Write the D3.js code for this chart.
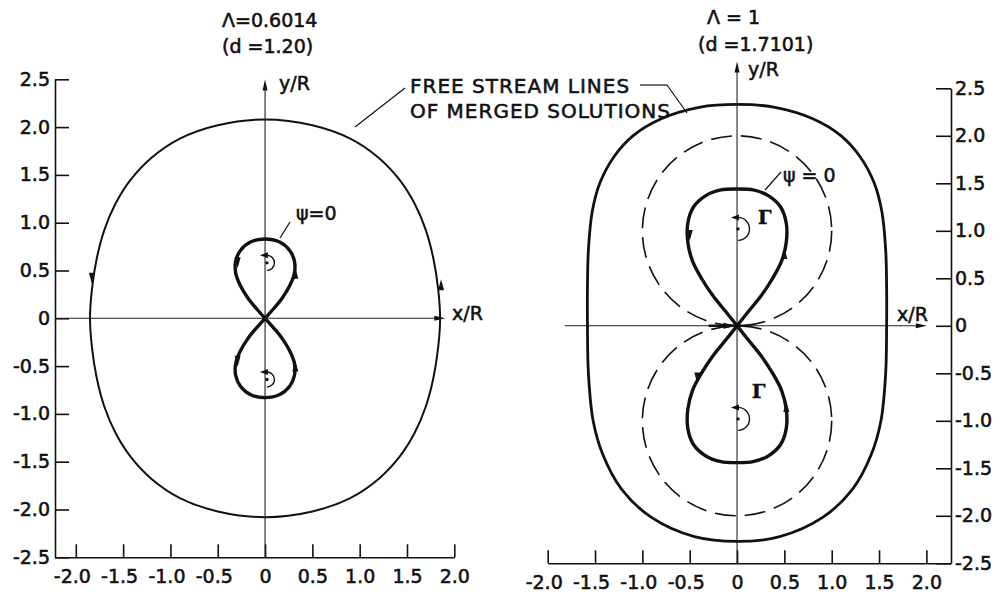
<!DOCTYPE html>
<html><head><meta charset="utf-8">
<script src="https://cdn.jsdelivr.net/npm/d3@7"></script>
<style>
body{margin:0;background:#fff}
text{font-family:"DejaVu Sans",sans-serif;fill:#111;stroke:#111;stroke-width:0.55px}
</style>
</head><body>
<svg id="c" width="1008" height="599"></svg>
<script>
// ---- tick values and their printed labels ----
const xTicks = [-2, -1.5, -1, -0.5, 0, 0.5, 1, 1.5, 2];
const xTickLabels = ["-2.0", "-1.5", "-1.0", "-0.5", "0", "0.5", "1.0", "1.5", "2.0"];
const yTicks = [2.5, 2, 1.5, 1, 0.5, 0, -0.5, -1, -1.5, -2, -2.5];
const yTickLabels = ["2.5", "2.0", "1.5", "1.0", "0.5", "0", "-0.5", "-1.0", "-1.5", "-2.0", "-2.5"];

// ---- Λ = 0.6014 (d = 1.20) ----
// free streamline, one quadrant from the top (x=0) down to the x axis
const freeLineA = [[0, 2.08], [0.5, 2.02], [0.9, 1.88], [1.2, 1.68], [1.42, 1.45], [1.58, 1.2],
  [1.7, 0.92], [1.78, 0.62], [1.83, 0.3], [1.85, 0]];
// ψ = 0 lobe, right half, from the stagnation point to the top of the lobe
const psiLobeA = [[0, 0], [0.09, 0.1], [0.18, 0.21], [0.26, 0.34], [0.31, 0.47], [0.31, 0.6],
  [0.26, 0.71], [0.15, 0.8], [0, 0.83]];
const vortexA = [[0.02, 0.58], [0.02, -0.64]];

// ---- Λ = 1 (d = 1.7101) ----
const freeLineBUpper = [[0, 2.33], [0.4, 2.3], [0.8, 2.18], [1.1, 2.0], [1.3, 1.78], [1.45, 1.5],
  [1.53, 1.2], [1.57, 0.8], [1.58, 0.4], [1.58, 0]];
const freeLineBLower = [[1.58, 0], [1.57, -0.5], [1.52, -1.0], [1.42, -1.35], [1.22, -1.72],
  [0.9, -2.02], [0.45, -2.22], [0, -2.27]];
const psiLobeB = [[0, 0], [0.12, 0.15], [0.25, 0.31], [0.37, 0.49], [0.47, 0.68], [0.52, 0.88],
  [0.52, 1.08], [0.46, 1.25], [0.33, 1.37], [0.17, 1.43], [0, 1.44]];
const vortexB = [[0.01, 1.02], [0.01, -0.98]];
const dashedCircles = [[0, 1, 1], [0, -1, 1]]; // centre x, centre y, radius

// flow-direction arrowheads on the curves: [x, y, direction]
const arrowsA = [[-1.83, 0.42, "down"], [1.86, 0.35, "up"],
  [-0.29, 0.58, "down"], [0.32, 0.47, "up"], [-0.29, -0.45, "down"], [0.32, -0.5, "up"]];
const arrowsB = [[-0.5, 0.95, "down"], [0.5, 0.76, "up"], [-0.42, -0.55, "down"], [0.52, -0.85, "up"]];

const svg = d3.select("#c");

// ---- scales for each panel ----
const A = {
  x: d3.scaleLinear().domain([-2.22, 2]).range([55, 454.3]),
  y: d3.scaleLinear().domain([-2.5, 2.5]).range([557.3, 79.3])
};
const B = {
  x: d3.scaleLinear().domain([-2, 2.26]).range([547.7, 951]),
  y: d3.scaleLinear().domain([-2.5, 2.5]).range([563.3, 88.3])
};

const tickFmt = (vals, labels) => v => labels[vals.indexOf(v)];

function styleAxis(g, size) {
  g.selectAll("path.domain").attr("stroke", "#111").attr("stroke-width", 1.6);
  g.selectAll(".tick line").attr("stroke", "#111").attr("stroke-width", 1.6);
  g.selectAll(".tick text").style("font-family", "DejaVu Sans, sans-serif")
    .style("font-size", size + "px").attr("fill", "#111");
}

// panel A axes: y on the left, ticks pointing inward
const gAy = svg.append("g").attr("transform", `translate(${A.x(-2.22)},0)`)
  .call(d3.axisLeft(A.y).tickValues(yTicks).tickFormat(tickFmt(yTicks, yTickLabels))
    .tickSize(-14).tickSizeOuter(0).tickPadding(5));
styleAxis(gAy, 19);
const gAx = svg.append("g").attr("transform", `translate(0,${A.y(-2.5)})`)
  .call(d3.axisBottom(A.x).tickValues(xTicks).tickFormat(tickFmt(xTicks, xTickLabels))
    .tickSize(-13).tickSizeOuter(0).tickPadding(12));
styleAxis(gAx, 19);
gAx.selectAll(".tick text").attr("dx", d => d < 0 ? -4 : 0);

// panel B axes: y on the right, ticks pointing inward
const gBy = svg.append("g").attr("transform", `translate(${B.x(2.26)},0)`)
  .call(d3.axisRight(B.y).tickValues(yTicks).tickFormat(tickFmt(yTicks, yTickLabels))
    .tickSize(-15).tickSizeOuter(0).tickPadding(4));
styleAxis(gBy, 19);
const gBx = svg.append("g").attr("transform", `translate(0,${B.y(-2.5)})`)
  .call(d3.axisBottom(B.x).tickValues(xTicks).tickFormat(tickFmt(xTicks, xTickLabels))
    .tickSize(-13).tickSizeOuter(0).tickPadding(12));
styleAxis(gBx, 19);
gBx.selectAll(".tick text").attr("dx", d => d < 0 ? -4 : 0);

// ---- helpers ----
function arrowHead(px, py, angleDeg, len, wid) {
  const a = angleDeg * Math.PI / 180, c = Math.cos(a), s = Math.sin(a);
  const tip = [px + c * len / 2, py + s * len / 2];
  const b = [px - c * len / 2, py - s * len / 2];
  const l = [b[0] - s * wid / 2, b[1] + c * wid / 2];
  const r = [b[0] + s * wid / 2, b[1] - c * wid / 2];
  svg.append("path").attr("d", `M${tip}L${l}L${r}Z`).attr("fill", "#111");
}

function closedFromSides(right) { // right: from top through x>0 to bottom
  const left = right.slice(1, -1).reverse().map(([x, y]) => [-x, y]);
  return right.concat(left);
}
function lobe(half, sign) {
  const other = half.slice(0, -1).reverse().map(([x, y]) => [-x, y]);
  return half.concat(other).map(([x, y]) => [x, sign * y]);
}
function drawPanel(P, free, lobeHalf, freeW, lobeW) {
  const line = d3.line().x(d => P.x(d[0])).y(d => P.y(d[1]));
  svg.append("path").attr("d", line.curve(d3.curveCatmullRomClosed)(free))
    .attr("fill", "none").attr("stroke", "#111").attr("stroke-width", freeW);
  [1, -1].forEach(sg => {
    const pts = lobe(lobeHalf, sg);
    svg.append("path").attr("d", d3.line().x(d => P.x(d[0])).y(d => P.y(d[1]))
      .curve(d3.curveCatmullRom)(pts))
      .attr("fill", "none").attr("stroke", "#111").attr("stroke-width", lobeW)
      .attr("stroke-linejoin", "round");
  });
}
function centreLines(P, xLeft, xRight, yTopPx, yBottom) {
  const x0 = P.x(0), y0 = P.y(0);
  svg.append("line").attr("x1", x0).attr("x2", x0).attr("y1", P.y(yBottom)).attr("y2", yTopPx + 4)
    .attr("stroke", "#222").attr("stroke-width", 1.1);
  arrowHead(x0, yTopPx + 5, -90, 11, 5);
  svg.append("line").attr("x1", P.x(xLeft)).attr("x2", P.x(xRight) - 4).attr("y1", y0).attr("y2", y0)
    .attr("stroke", "#222").attr("stroke-width", 1.1);
  arrowHead(P.x(xRight) - 5, y0, 0, 11, 5);
}
function vortex(P, c, r) {
  const cx = P.x(c[0]), cy = P.y(c[1]);
  svg.append("circle").attr("cx", cx).attr("cy", cy).attr("r", 1.7).attr("fill", "#111");
  const top = cy - r, bot = cy + r;
  svg.append("path").attr("d", `M${cx},${top} A${r},${r} 0 0 1 ${cx},${bot}`)
    .attr("fill", "none").attr("stroke", "#111").attr("stroke-width", 1.4);
  arrowHead(cx - 3, top, 180, 8, 6);
}
function curveArrows(P, list) {
  list.forEach(([x, y, dir]) => arrowHead(P.x(x), P.y(y), dir === "down" ? 90 : -90, 11, 6));
}

// ---- panel A ----
centreLines(A, -2.22, 1.9, 80, -2.5);
drawPanel(A, closedFromSides(freeLineA.concat(freeLineA.slice(0, -1).reverse().map(([x, y]) => [x, -y]))),
  psiLobeA, 2, 3.4);
curveArrows(A, arrowsA);
vortexA.forEach(c => vortex(A, c, 7.5));

// ---- panel B ----
centreLines(B, -1.82, 2.0, 62, -2.5);
svg.selectAll("ellipse.dc").data(dashedCircles).join("ellipse")
  .attr("cx", d => B.x(d[0])).attr("cy", d => B.y(d[1]))
  .attr("rx", d => B.x(d[2]) - B.x(0)).attr("ry", d => B.y(0) - B.y(d[2]))
  .attr("fill", "none").attr("stroke", "#111").attr("stroke-width", 1.6)
  .attr("stroke-dasharray", "21,9");
drawPanel(B, closedFromSides(freeLineBUpper.concat(freeLineBLower.slice(1))), psiLobeB, 2.8, 3.4);
curveArrows(B, arrowsB);
vortexB.forEach(c => vortex(B, c, 11.5));
// inflow arrow into the stagnation point
svg.append("line").attr("x1", B.x(-0.3)).attr("x2", B.x(0.12)).attr("y1", B.y(0)).attr("y2", B.y(0))
  .attr("stroke", "#111").attr("stroke-width", 2.4);
arrowHead(B.x(-0.07), B.y(0), 0, 14, 6);

// ---- text ----
const T = (x, y, s, size, extra) => {
  const t = svg.append("text").attr("x", x).attr("y", y).text(s).style("font-size", size + "px");
  if (extra) extra(t);
  return t;
};
T(222, 27, "Λ=0.6014", 19);
T(222, 53, "(d =1.20)", 19);
T(279, 90, "y/R", 19);
T(452, 320, "x/R", 19);
T(296, 220, "ψ=0", 19);
T(707, 24, "Λ = 1", 19);
T(698, 51, "(d =1.7101)", 19);
T(748, 76, "y/R", 19);
T(897, 321, "x/R", 19);
T(783, 182, "ψ = 0", 19);
T(758, 224, "Γ", 19, t => t.style("font-family", "DejaVu Serif").style("font-weight", "bold"));
T(752, 398, "Γ", 19, t => t.style("font-family", "DejaVu Serif").style("font-weight", "bold"));
T(410, 93, "FREE STREAM LINES", 20, t => t.style("letter-spacing", "1px"));
T(410, 118, "OF MERGED SOLUTIONS", 20, t => t.style("letter-spacing", "1px"));

// leader lines
const leaders = [[355, 127, 405, 88], [640, 85, 667, 85], [667, 85, 687, 113],
  [280, 238, 290, 222], [765, 190, 781, 172]];
leaders.forEach(([x1, y1, x2, y2]) => svg.append("line").attr("x1", x1).attr("y1", y1)
  .attr("x2", x2).attr("y2", y2).attr("stroke", "#111").attr("stroke-width", 1.2));
</script>
</body></html>
